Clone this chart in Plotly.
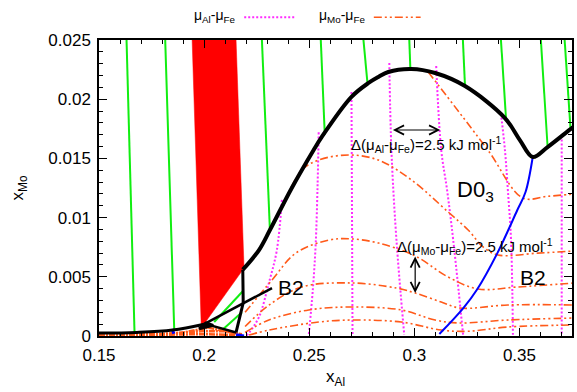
import plotly.graph_objects as go

FONT = "Liberation Sans, Arial, sans-serif"

# ---------------- axes ----------------
x_range = [0.15, 0.375]
y_range = [0.0, 0.025]

# ---------------- red two-phase region ----------------
red_x = [0.1943, 0.2152, 0.2190, 0.2000, 0.1986, 0.1943]
red_y = [0.025, 0.025, 0.00574, 0.00101, 0.00101, 0.025]

# ---------------- green tie lines (start, end) ----------------
tie_x0 = [0.1631, 0.1815, 0.2275, 0.2555, 0.2758, 0.2976, 0.3231, 0.3412, 0.3602, 0.3715, 0.2048, 0.2086]
tie_y0 = [0.025, 0.025, 0.025, 0.025, 0.025, 0.025, 0.025, 0.025, 0.025, 0.025, 0.00118, 0.0005]
tie_x1 = [0.1669, 0.1858, 0.2313, 0.2574, 0.2777, 0.2981, 0.3241, 0.3436, 0.3634, 0.3743, 0.2185, 0.2180]
tie_y1 = [0.00028, 0.0005, 0.00895, 0.0170, 0.02137, 0.02262, 0.02111, 0.01841, 0.01596, 0.01748, 0.0038, 0.0020]

# ---------------- D03 phase boundary (thick black) ----------------
d03_x = [0.2184, 0.2261, 0.2313, 0.2417, 0.2521, 0.2559, 0.2701, 0.2782, 0.2829, 0.2876,
         0.2986, 0.3099, 0.3241, 0.3431, 0.3502, 0.3563, 0.3634, 0.3743, 0.3760]
d03_y = [0.0056, 0.00726, 0.00895, 0.0125, 0.01571, 0.0168, 0.0202, 0.02137, 0.02188, 0.0223,
         0.02255, 0.02221, 0.02111, 0.01841, 0.01655, 0.01512, 0.01596, 0.01748, 0.0177]

# bottom boundary near x_Mo = 0
base_x = [0.15, 0.168, 0.185, 0.2000]
base_y = [0.00025, 0.0003, 0.0005, 0.0010]

# vertical B2 boundary segment
vert_x = [0.2184, 0.2186, 0.2152]
vert_y = [0.0056, 0.0028, 0.0003]

# small triangle and B2 connector lines
tri_x = [0.1976, 0.2010, 0.2043, 0.1976]
tri_y = [0.0006, 0.0011, 0.0009, 0.0006]
tri_tail_x = [0.2010, 0.2152]
tri_tail_y = [0.0010, 0.0003]
b2_line_x = [0.2000, 0.2323]
b2_line_y = [0.00101, 0.00405]

# blue D03/B2 ordering line
blue_x = [0.3119, 0.3233, 0.3300, 0.3395, 0.3490, 0.3529, 0.3563]
blue_y = [0.00017, 0.00236, 0.00397, 0.0070, 0.01064, 0.01216, 0.0151]
blue_bits_x = [[0.1848, 0.1856], [0.2152, 0.2190]]
blue_bits_y = [[0.0006, 0.0002], [0.0001, 0.0]]

# ---------------- mu_Al - mu_Fe iso-lines (magenta dotted) ----------------
al_x = [
    [0.2370, 0.2346, 0.2308, 0.2261, 0.2213, 0.2199],
    [0.2545, 0.2540, 0.2531, 0.2517, 0.2498],
    [0.2701, 0.2706],
    [0.2881, 0.2891, 0.2915, 0.2952],
    [0.3104, 0.3128, 0.3156, 0.3185, 0.3232],
    [0.3412, 0.3431, 0.3445, 0.3460, 0.3469],
    [0.3701, 0.3701],
]
al_y = [
    [0.0115, 0.00726, 0.00448, 0.0016, 0.00025, 0.0],
    [0.0172, 0.01292, 0.00785, 0.00389, 0.0001],
    [0.0206, 0.0001],
    [0.02306, 0.0157, 0.0081, 0.0001],
    [0.0228, 0.0157, 0.0123, 0.0081, 0.0001],
    [0.0188, 0.0157, 0.0123, 0.0081, 0.0001],
    [0.0166, 0.0001],
]

# ---------------- mu_Mo - mu_Fe iso-lines (orange dash-dot-dot) ----------------
mo_x = [
    [0.3066, 0.3350, 0.3516, 0.3634, 0.3762],
    [0.2375, 0.2464, 0.2545, 0.2687, 0.2829, 0.2986, 0.3161, 0.3256, 0.3327, 0.3398, 0.3587, 0.3762],
    [0.2195, 0.2323, 0.2436, 0.2592, 0.2701, 0.2829, 0.3004, 0.3161, 0.3303, 0.3492, 0.3762],
    [0.2195, 0.2308, 0.2464, 0.2701, 0.2915, 0.3004, 0.3128, 0.3218, 0.3445, 0.3762],
    [0.2195, 0.2308, 0.2498, 0.2701, 0.2938, 0.3099, 0.3208, 0.3445, 0.3762],
    [0.2214, 0.2308, 0.2545, 0.2701, 0.2938, 0.3128, 0.3256, 0.3445, 0.3762],
]
mo_y = [
    [0.0223, 0.0157, 0.01166, 0.0118, 0.0120],
    [0.0109, 0.0140, 0.01486, 0.01529, 0.01486, 0.01318, 0.01047, 0.00895, 0.00752, 0.00684, 0.0070, 0.00718],
    [0.0020, 0.00473, 0.0070, 0.0081, 0.0082, 0.00785, 0.00676, 0.00498, 0.00397, 0.00414, 0.00448],
    [0.0008, 0.0026, 0.00414, 0.00448, 0.00405, 0.00363, 0.00287, 0.00236, 0.00262, 0.00262],
    [0.0003, 0.00135, 0.0022, 0.00245, 0.0022, 0.00135, 0.0011, 0.00135, 0.00152],
    [0.00008, 0.0005, 0.00118, 0.00135, 0.00118, 0.0005, 0.0004, 0.00076, 0.00093],
]
# dense contour cluster hugging x_Mo = 0 on the Fe-rich side
mo_low_x = [
    [0.15, 0.175, 0.2000, 0.2150],
    [0.15, 0.180, 0.1990, 0.2100, 0.2180],
    [0.15, 0.185, 0.2020, 0.2160],
]
mo_low_y = [
    [0.00006, 0.00008, 0.00015, 0.00008],
    [0.00014, 0.00018, 0.0004, 0.0004, 0.00015],
    [0.0001, 0.00012, 0.0007, 0.0002],
]

# ---------------- labels & arrows ----------------
labels_text = ["D0<sub>3</sub>", "B2", "B2",
               "Δ(μ<sub>Al</sub>-μ<sub>Fe</sub>)=2.5 kJ mol<sup>-1</sup>",
               "Δ(μ<sub>Mo</sub>-μ<sub>Fe</sub>)=2.5 kJ mol<sup>-1</sup>"]
labels_x = [0.3291, 0.3565, 0.2413, 0.3060, 0.3289]
labels_y = [0.01225, 0.0049, 0.0041, 0.0162, 0.0076]
labels_size = [22, 21, 21, 15, 15]

arrow_al_x = [0.2891, 0.3123]
arrow_al_y = [0.01740, 0.01740]
arrow_mo_x = [0.3004, 0.3004]
arrow_mo_y = [0.00684, 0.00363]

ORANGE = "#ff5a1a"
MAGENTA = "#ff2cff"
GREEN = "#11ee11"
MO_DASH = "8px,3px,2px,3px,2px,3px"
AL_DASH = "2px,2px"

fig = go.Figure()

fig.add_trace(go.Scatter(x=red_x, y=red_y, fill="toself", fillcolor="#ff0000",
                         mode="lines", line=dict(color="#ff0000", width=0.5),
                         showlegend=False, hoverinfo="skip"))

for xa, ya, xb, yb in zip(tie_x0, tie_y0, tie_x1, tie_y1):
    fig.add_trace(go.Scatter(x=[xa, xb], y=[ya, yb], mode="lines",
                             line=dict(color=GREEN, width=2), showlegend=False))

for xs, ys in zip(al_x, al_y):
    fig.add_trace(go.Scatter(x=xs, y=ys, mode="lines", line_shape="spline",
                             line=dict(color=MAGENTA, width=2, dash=AL_DASH),
                             showlegend=False))

for xs, ys in zip(mo_x, mo_y):
    fig.add_trace(go.Scatter(x=xs, y=ys, mode="lines", line_shape="spline",
                             line=dict(color=ORANGE, width=1.6, dash=MO_DASH),
                             showlegend=False))
for xs, ys in zip(mo_low_x, mo_low_y):
    fig.add_trace(go.Scatter(x=xs, y=ys, mode="lines",
                             line=dict(color=ORANGE, width=2.5, dash="6px,1px,2px,1px"),
                             showlegend=False))

fig.add_trace(go.Scatter(x=blue_x, y=blue_y, mode="lines", line_shape="spline",
                         line=dict(color="#0000ff", width=2), showlegend=False))
for xs, ys in zip(blue_bits_x, blue_bits_y):
    fig.add_trace(go.Scatter(x=xs, y=ys, mode="lines",
                             line=dict(color="#0000ff", width=3), showlegend=False))

fig.add_trace(go.Scatter(x=d03_x, y=d03_y, mode="lines", line_shape="spline",
                         line=dict(color="black", width=4), showlegend=False))
fig.add_trace(go.Scatter(x=base_x, y=base_y, mode="lines", line_shape="spline",
                         line=dict(color="black", width=3), showlegend=False))
fig.add_trace(go.Scatter(x=vert_x, y=vert_y, mode="lines",
                         line=dict(color="black", width=3), showlegend=False))
fig.add_trace(go.Scatter(x=tri_x, y=tri_y, mode="lines", fill="toself", fillcolor="black",
                         line=dict(color="black", width=3), showlegend=False))
fig.add_trace(go.Scatter(x=tri_tail_x, y=tri_tail_y, mode="lines",
                         line=dict(color="black", width=2.5), showlegend=False))
fig.add_trace(go.Scatter(x=b2_line_x, y=b2_line_y, mode="lines",
                         line=dict(color="black", width=2.5), showlegend=False))

annotations = []
for t, x, y, s in zip(labels_text, labels_x, labels_y, labels_size):
    annotations.append(dict(x=x, y=y, xref="x", yref="y", text=t, showarrow=False,
                            font=dict(family=FONT, size=s, color="black")))

for ax_, ay_ in ((arrow_al_x, arrow_al_y), (arrow_mo_x, arrow_mo_y)):
    annotations.append(dict(x=ax_[1], y=ay_[1], ax=ax_[0], ay=ay_[0],
                            xref="x", yref="y", axref="x", ayref="y", text="",
                            showarrow=True, arrowhead=5, startarrowhead=5,
                            arrowside="end+start", arrowwidth=1.2, arrowsize=1.5,
                            startarrowsize=1.5, arrowcolor="black"))

# legend (text followed by line sample, as in the original key)
legend_text = ["μ<sub>Al</sub>-μ<sub>Fe</sub>", "μ<sub>Mo</sub>-μ<sub>Fe</sub>"]
legend_text_x = [0.196, 0.461]
legend_line_x = [[0.307, 0.413], [0.581, 0.680]]
legend_colors = [MAGENTA, ORANGE]
legend_dash = [AL_DASH, MO_DASH]
legend_y = 1.08

shapes = []
for t, tx, lx, c, d in zip(legend_text, legend_text_x, legend_line_x, legend_colors, legend_dash):
    annotations.append(dict(x=tx, y=legend_y, xref="paper", yref="paper", text=t,
                            showarrow=False, xanchor="left", yanchor="middle",
                            font=dict(family=FONT, size=14, color="black")))
    shapes.append(dict(type="line", xref="paper", yref="paper", x0=lx[0], x1=lx[1],
                       y0=legend_y - 0.003, y1=legend_y - 0.003,
                       line=dict(color=c, width=2 if c == MAGENTA else 1.6, dash=d)))

axis_common = dict(showline=True, linecolor="black", linewidth=1.5, mirror="allticks",
                   ticks="inside", ticklen=8, tickwidth=1.2, tickcolor="black",
                   showgrid=False, zeroline=False,
                   tickfont=dict(family=FONT, size=17, color="black"))

fig.update_layout(
    width=577, height=392,
    margin=dict(l=99, r=3, t=40, b=56),
    paper_bgcolor="white", plot_bgcolor="white",
    showlegend=False,
    annotations=annotations, shapes=shapes,
    xaxis=dict(range=x_range, tick0=0.15, dtick=0.05, ticklabelstandoff=3,
               minor=dict(ticks="inside", dtick=0.01, ticklen=4, tickcolor="black", tickwidth=1),
               title=dict(text="x<sub>Al</sub>", font=dict(family=FONT, size=17, color="black"),
                          standoff=6),
               **axis_common),
    yaxis=dict(range=y_range, tick0=0, dtick=0.005, ticklabelstandoff=3,
               minor=dict(ticks="inside", dtick=0.001, ticklen=4, tickcolor="black", tickwidth=1),
               title=dict(text="x<sub>Mo</sub>", font=dict(family=FONT, size=17, color="black"),
                          standoff=20),
               **axis_common),
)

fig.write_html("out.html")
